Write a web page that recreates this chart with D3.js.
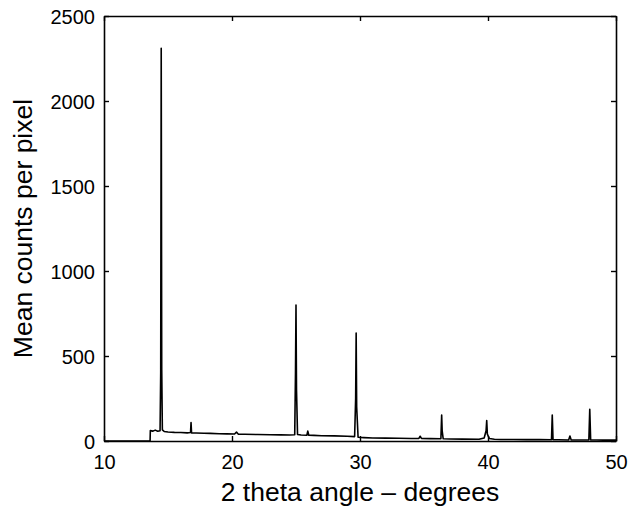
<!DOCTYPE html>
<html>
<head>
<meta charset="utf-8">
<script src="https://cdn.jsdelivr.net/npm/d3@7/dist/d3.min.js"></script>
<style>
  html, body { margin: 0; padding: 0; background: #fff; }
  svg { display: block; }
</style>
</head>
<body>
<svg id="chart" width="629" height="512"></svg>
<script>
// ---- data ----
const twoTheta = [
  10, 13.6, 13.62, 13.8, 14.0, 14.2, 14.38, 14.43, 14.47, 14.51, 14.56, 14.7,
  15.0, 15.5, 16.0, 16.5, 16.76, 16.8, 16.84, 17.2, 17.8, 18.3, 19.0, 19.6,
  20.2, 20.35, 20.5, 21.0, 22.0, 23.0, 23.8, 24.5, 24.9, 24.96, 25.0, 25.04,
  25.12, 25.4, 25.85, 25.92, 26.0, 26.4, 27.0, 28.0, 29.0, 29.58, 29.66, 29.7,
  29.74, 29.85, 30.3, 31.0, 32.0, 33.0, 34.0, 34.6, 34.7, 34.8, 35.5, 36.32,
  36.38, 36.42, 36.5, 37.0, 38.0, 39.3, 39.7, 39.85, 39.9, 39.95, 40.1, 40.5,
  41.0, 42.0, 43.0, 44.0, 44.96, 45.02, 45.08, 45.5, 46.3, 46.4, 46.5, 47.0,
  47.88, 47.95, 48.02, 48.5, 49.0, 50.0
];
const meanCounts = [
  0, 0, 62, 58, 64, 57, 60, 400, 2310, 420, 65, 56,
  53, 51, 50, 48, 50, 108, 48, 47, 46, 45, 43, 42,
  41, 52, 40, 40, 38, 37, 36, 35, 37, 400, 800, 300,
  38, 35, 34, 58, 34, 33, 31, 30, 28, 26, 250, 635,
  200, 22, 20, 18, 17, 16, 15, 15, 28, 15, 14, 13,
  153, 60, 13, 12, 11, 10, 18, 60, 120, 40, 15, 10,
  9, 9, 8, 8, 7, 153, 7, 7, 6, 29, 6, 6,
  6, 186, 6, 6, 5, 5
];
const xTicks = [10, 20, 30, 40, 50];
const yTicks = [0, 500, 1000, 1500, 2000, 2500];
const xLabel = "2 theta angle \u2013 degrees";
const yLabel = "Mean counts per pixel";

// ---- layout ----
const L = 104, R = 616, T = 16, B = 441;
const font = "'Liberation Sans', Arial, Helvetica, sans-serif";
const svg = d3.select("#chart");

const x = d3.scaleLinear().domain([10, 50]).range([L, R]);
const y = d3.scaleLinear().domain([0, 2500]).range([B, T]);

const data = twoTheta.map((t, i) => ({ t, c: meanCounts[i] }));

// data line
svg.append("path")
  .datum(data)
  .attr("fill", "none")
  .attr("stroke", "#000")
  .attr("stroke-width", 1.6)
  .attr("stroke-linejoin", "round")
  .attr("d", d3.line().x(d => x(d.t)).y(d => y(d.c)));

// axes (inward ticks, box)
function styleAxis(g) {
  g.selectAll("path.domain").attr("stroke", "#000").attr("stroke-width", 1.6);
  g.selectAll(".tick line").attr("stroke", "#000").attr("stroke-width", 1.4);
  g.selectAll(".tick text").attr("font-family", font).attr("font-size", 20).attr("fill", "#000");
}
const fmt = d3.format("d");

svg.append("g").attr("transform", `translate(0,${B})`)
  .call(d3.axisBottom(x).tickValues(xTicks).tickFormat(fmt).tickSizeInner(-5).tickSizeOuter(0))
  .call(styleAxis)
  .call(g => g.selectAll(".tick text").attr("dy", "0.71em").attr("y", 14));

svg.append("g").attr("transform", `translate(0,${T})`)
  .call(d3.axisTop(x).tickValues(xTicks).tickSizeInner(-5).tickSizeOuter(0).tickFormat(""))
  .call(styleAxis);

svg.append("g").attr("transform", `translate(${L},0)`)
  .call(d3.axisLeft(y).tickValues(yTicks).tickFormat(fmt).tickSizeInner(-5).tickSizeOuter(0))
  .call(styleAxis)
  .call(g => g.selectAll(".tick text").attr("x", -9).attr("dy", "0.36em"));

svg.append("g").attr("transform", `translate(${R},0)`)
  .call(d3.axisRight(y).tickValues(yTicks).tickSizeInner(-5).tickSizeOuter(0).tickFormat(""))
  .call(styleAxis);

// axis labels
svg.append("text")
  .attr("x", (L + R) / 2).attr("y", 501)
  .attr("text-anchor", "middle")
  .attr("font-family", font).attr("font-size", 26.5).attr("fill", "#000")
  .text(xLabel);

svg.append("text")
  .attr("transform", `translate(32,${(T + B) / 2}) rotate(-90)`)
  .attr("text-anchor", "middle")
  .attr("font-family", font).attr("font-size", 26.5).attr("fill", "#000")
  .text(yLabel);
</script>
</body>
</html>
